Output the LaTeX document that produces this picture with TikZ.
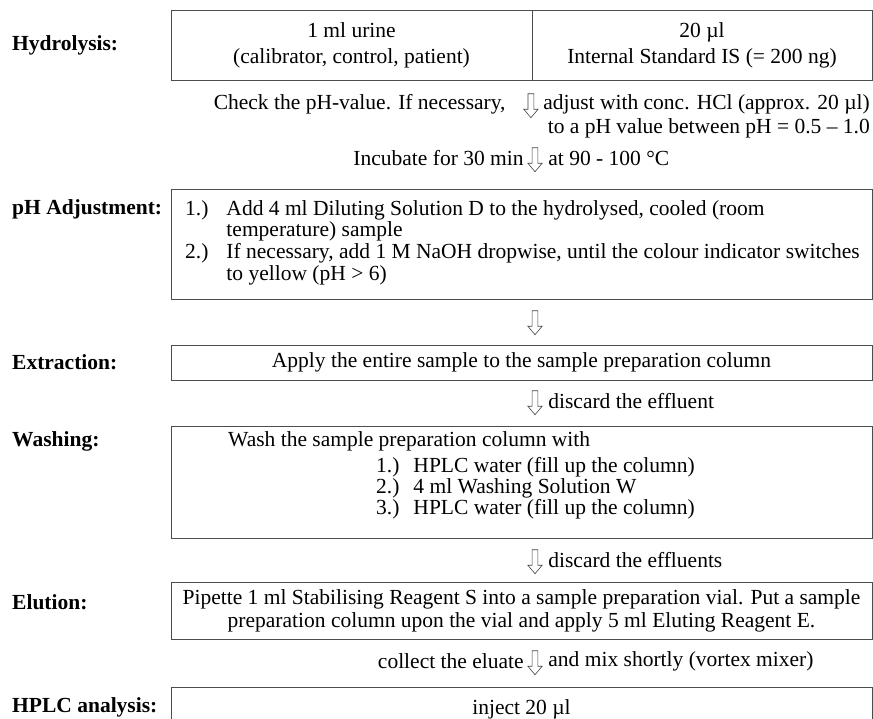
\documentclass[tikz,border=0pt]{standalone}
\usepackage{fontspec}
\setmainfont{Liberation Serif}
\usetikzlibrary{positioning,shapes.arrows}

\newcommand{\flowfont}{\fontsize{21.5}{23}\selectfont}

\tikzset{stage/.style = {font=\flowfont\bfseries, anchor=west, inner sep=0pt},
         panel/.style = {draw=black!70, line width=0.9pt, inner sep=0pt,
                         outer sep=0pt, minimum height=#1},
         note/.style  = {inner sep=0pt},
         flow/.style  = {single arrow, shape border rotate=270, draw=black!75,
                         line width=0.6pt, inner sep=2.6pt, minimum height=24pt,
                         single arrow head extend=4.2pt,
                         single arrow tip angle=80}}

\begin{document}
\begin{tikzpicture}[x=1pt, y=-1pt, font=\flowfont]
  \useasboundingbox (0,0) rectangle (873,718);

  % Hydrolysis
  \node[stage] (lhyd) at (12,45) {Hydrolysis:};
  \node[panel=70pt, minimum width=361pt, align=center] (urine) at (351.5,45)
       {1 ml urine\\[3pt](calibrator, control, patient)};
  \node[panel=70pt, minimum width=340pt, align=center, right=0pt of urine] (istd)
       {20 µl\\[3pt]Internal Standard IS (= 200 ng)};

  \node[note, anchor=east] (hcl) at (870,104) {adjust with conc. HCl (approx. 20 µl)};
  \node[flow, left=9pt of hcl] (f1) {};
  \node[note, left=22pt of f1] (check) {Check the pH-value. If necessary,};
  \node[note, below left=4pt and 0pt of hcl.south east] (range)
       {to a pH value between pH = 0.5 -- 1.0};

  \node[flow] (f2) at (535,158) {};
  \node[note, left=8pt of f2] (incub) {Incubate for 30 min};
  \node[note, right=10pt of f2] (temp) {at 90 - 100 °C};

  % pH adjustment
  \node[stage] (ladj) at (12,209) {pH Adjustment:};
  \node[panel=110pt, minimum width=701pt] (adjust) at (521.5,244) {};
  \node[note, anchor=north west] (adjlist) at ([xshift=14pt, yshift=-11pt]adjust.north west)
       {\renewcommand\arraystretch{0.94}%
        \begin{tabular}{@{}l@{\hspace{18pt}}l@{}}
          1.) & Add 4 ml Diluting Solution D to the hydrolysed, cooled (room\\
              & temperature) sample\\
          2.) & If necessary, add 1 M NaOH dropwise, until the colour indicator switches\\
              & to yellow (pH > 6)
        \end{tabular}};

  \node[flow] (f3) at (535,321) {};

  % Extraction
  \node[stage] (lext) at (12,362) {Extraction:};
  \node[panel=35pt, minimum width=701pt] (extract) at (521.5,362.5)
       {Apply the entire sample to the sample preparation column};

  \node[flow] (f4) at (535,401) {};
  \node[note, right=10pt of f4] (waste1) {discard the effluent};

  % Washing
  \node[stage] (lwash) at (12,441) {Washing:};
  \node[panel=112pt, minimum width=701pt] (wash) at (521.5,482) {};
  \node[note, anchor=base west] (washhead) at ([xshift=57pt, yshift=-20pt]wash.north west)
       {Wash the sample preparation column with};
  \node[note, anchor=north west] (washlist) at ([xshift=148pt, yshift=-11pt]washhead.base west)
       {\renewcommand\arraystretch{0.9}%
        \begin{tabular}{@{}l@{\hspace{14pt}}l@{}}
          1.) & HPLC water (fill up the column)\\
          2.) & 4 ml Washing Solution W\\
          3.) & HPLC water (fill up the column)
        \end{tabular}};

  \node[flow] (f5) at (535,560) {};
  \node[note, right=10pt of f5] (waste2) {discard the effluents};

  % Elution
  \node[stage] (lelu) at (12,602) {Elution:};
  \node[panel=57pt, minimum width=701pt, align=center] (elute) at (521.5,610.5)
       {Pipette 1 ml Stabilising Reagent S into a sample preparation vial. Put a sample\\
        preparation column upon the vial and apply 5 ml Eluting Reagent E.};

  \node[flow] (f6) at (535,661) {};
  \node[note, left=8pt of f6] (collect) {collect the eluate};
  \node[note, right=10pt of f6] (mix) {and mix shortly (vortex mixer)};

  % HPLC analysis
  \node[stage] (lhplc) at (12,707) {HPLC analysis:};
  \node[panel=50pt, minimum width=701pt, anchor=north] (inject) at (521.5,687) {};
  \node[note, below=12pt of inject.north] (vol) {inject 20 µl};
\end{tikzpicture}
\end{document}
